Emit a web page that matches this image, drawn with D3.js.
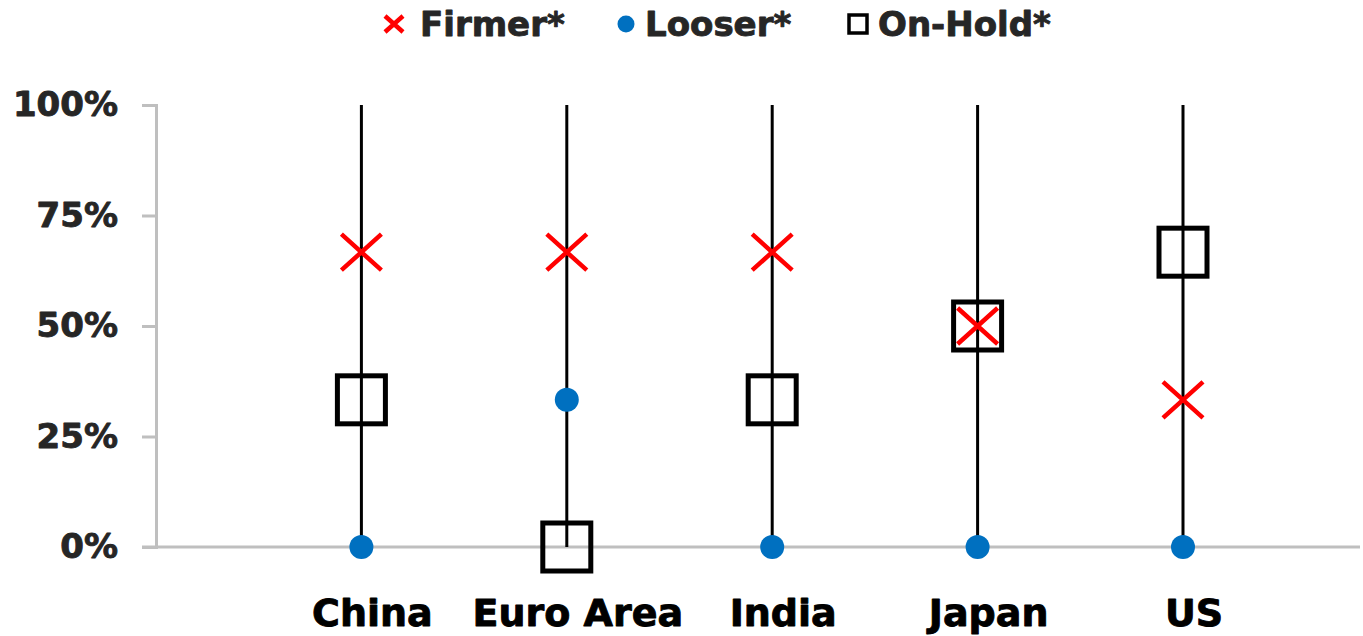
<!DOCTYPE html>
<html><head><meta charset="utf-8">
<script src="https://cdn.jsdelivr.net/npm/d3@7"></script>
<style>
html,body{margin:0;padding:0;background:#fff;}
svg{display:block;}
text{font-family:"DejaVu Sans",Verdana,sans-serif;font-weight:bold;stroke-width:0.9px;stroke-linejoin:round;}
</style></head>
<body>
<svg id="chart" width="1363" height="636"></svg>
<script>
const categories = ["China", "Euro Area", "India", "Japan", "US"];
const firmer = [0.667, 0.667, 0.667, 0.50, 0.333];
const looser = [0.0, 0.333, 0.0, 0.0, 0.0];
const onHold = [0.333, 0.0, 0.333, 0.50, 0.667];
const highs = [1, 1, 1, 1, 1];
const lows = [0, 0, 0, 0, 0];
const yTicks = [0, 0.25, 0.5, 0.75, 1];
const legendLabels = ["Firmer*", "Looser*", "On-Hold*"];

(function () {
const svg = d3.select("#chart");
const plotLeft = 156, plotRight = 1360, plotTop = 105, plotBottom = 547;

const x = d3.scaleLinear().domain([0, categories.length]).range([plotLeft, 1183]);
const xc = i => x(i + 1);
const y = d3.scaleLinear().domain([0, 1]).range([plotBottom, plotTop]);

// axes
const grey = "#BFBFBF";
svg.append("line").attr("x1", 142).attr("x2", plotRight).attr("y1", y(0)).attr("y2", y(0))
  .attr("stroke", grey).attr("stroke-width", 3);
const yAxis = d3.axisLeft(y).tickValues(yTicks).tickFormat(d3.format(".0%")).tickSize(14).tickPadding(24);
const ga = svg.append("g").attr("transform", `translate(${plotLeft},0)`).call(yAxis);
ga.select(".domain").attr("stroke", grey).attr("stroke-width", 3);
ga.selectAll(".tick line").attr("stroke", grey).attr("stroke-width", 3);
ga.selectAll(".tick text").attr("fill", "#262626").attr("stroke", "#262626").style("font-size", "34px")
  .style("font-family", "'DejaVu Sans',Verdana,sans-serif").style("font-weight", "bold");

// category labels
svg.append("g").selectAll("text").data(categories).join("text")
  .attr("x", (d, i) => xc(i) + 11).attr("y", 626)
  .attr("text-anchor", "middle").attr("fill", "#000").attr("stroke", "#000").style("font-size", "38px")
  .text(d => d);

// high-low lines
svg.append("g").selectAll("line").data(categories).join("line")
  .attr("x1", (d, i) => xc(i)).attr("x2", (d, i) => xc(i))
  .attr("y1", (d, i) => y(highs[i])).attr("y2", (d, i) => y(lows[i]))
  .attr("stroke", "#000").attr("stroke-width", 3);

// on-hold squares
const sq = 48;
svg.append("g").selectAll("rect").data(onHold).join("rect")
  .attr("x", (d, i) => xc(i) - sq / 2).attr("y", d => y(d) - sq / 2)
  .attr("width", sq).attr("height", sq)
  .attr("fill", "none").attr("stroke", "#000").attr("stroke-width", 5);

// looser dots
svg.append("g").selectAll("circle").data(looser).join("circle")
  .attr("cx", (d, i) => xc(i)).attr("cy", d => y(d)).attr("r", 12)
  .attr("fill", "#0070C0");

// firmer crosses
const xh = 20, yh = 18;
const crossPath = (cx, cy, a, b) => `M${cx - a},${cy - b}L${cx + a},${cy + b}M${cx - a},${cy + b}L${cx + a},${cy - b}`;
svg.append("g").selectAll("path").data(firmer).join("path")
  .attr("d", (d, i) => crossPath(xc(i), y(d), xh, yh))
  .attr("stroke", "#FF0000").attr("stroke-width", 4.5).attr("fill", "none");

// legend
const lg = svg.append("g");
const ly = 24;
lg.append("path").attr("d", crossPath(394, ly, 9, 8)).attr("stroke", "#FF0000").attr("stroke-width", 4.5);
lg.append("circle").attr("cx", 626).attr("cy", ly).attr("r", 8.5).attr("fill", "#0070C0");
lg.append("rect").attr("x", 849).attr("y", ly - 9).attr("width", 18).attr("height", 18)
  .attr("fill", "none").attr("stroke", "#000").attr("stroke-width", 3.5);
const lx = [420, 645, 878];
lg.selectAll("text").data(legendLabels).join("text")
  .attr("x", (d, i) => lx[i]).attr("y", ly + 12).attr("fill", "#262626").attr("stroke", "#262626").style("font-size", "34px")
  .text(d => d);
})();
</script>
</body></html>
